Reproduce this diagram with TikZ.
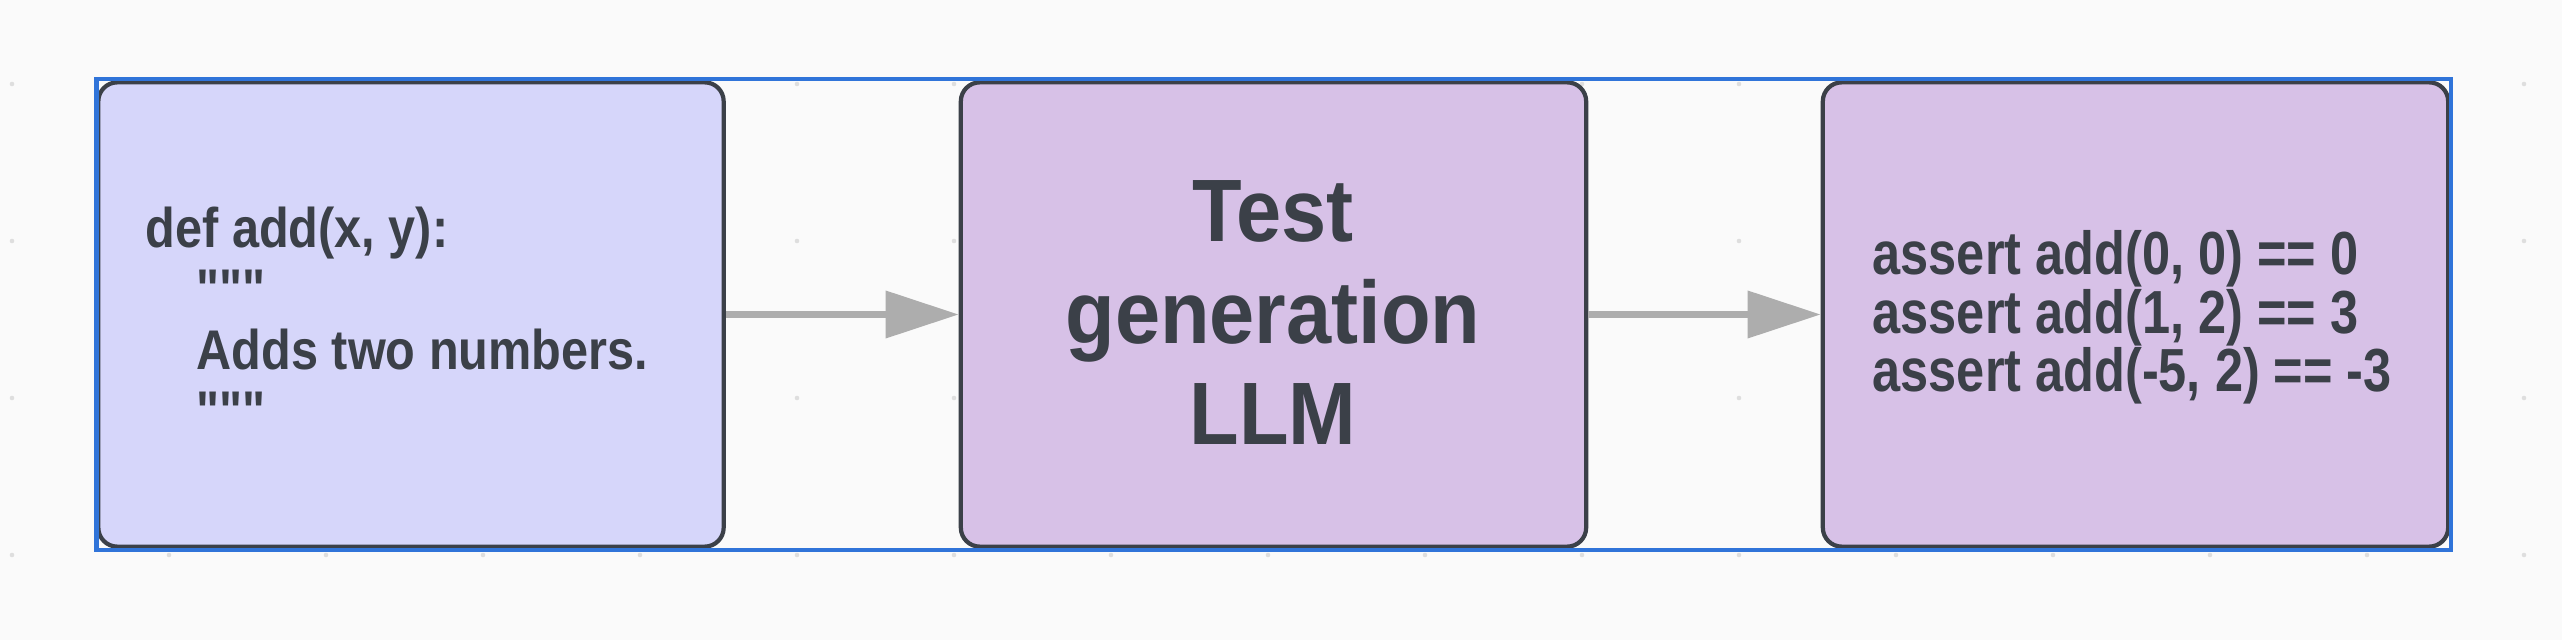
\documentclass[tikz,border=0pt]{standalone}
\usepackage{fontspec}
\usepackage{tikz}
\usetikzlibrary{arrows.meta}

\newfontfamily\codefont{Liberation Sans}[FakeStretch=0.87]
\newfontfamily\assertfont{Liberation Sans}[FakeStretch=0.83]
\newfontfamily\titlefont{Liberation Sans}[FakeStretch=0.916]

\definecolor{canvas}{HTML}{FAFAFA}
\definecolor{griddot}{HTML}{DEDEDE}
\definecolor{ink}{HTML}{3B4048}
\definecolor{inputfill}{HTML}{D6D6FA}
\definecolor{llmfill}{HTML}{D7C1E7}
\definecolor{wire}{HTML}{ADADAD}
\definecolor{selection}{HTML}{3074D9}

\tikzset{
	block/.style={draw=ink, line width=1.2pt, rounded corners=5.4pt,
		minimum width=6.25cm, minimum height=4.64cm, inner sep=0pt},
	code/.style={text=ink, inner sep=0pt, align=left,
		font={\codefont\bfseries\fontsize{15.9pt}{17.4pt}\selectfont}},
	flow/.style={draw=wire, line width=2pt,
		-{Triangle[length=20.8pt, width=13.1pt]}},
}

\begin{document}
\begin{tikzpicture}[x=0.01cm, y=-0.01cm]

% canvas %{{{2

	\fill[canvas] (0,0) rectangle (2562,640);
	\useasboundingbox (0,0) rectangle (2562,640);

	% dot grid
	\foreach \gx in {0,...,16}
		\foreach \gy in {0,...,3}
			\fill[griddot] (12+157*\gx, 84+157*\gy) circle (0.65pt);

% coordinates %{{{2

	\coordinate (selNW) at (96.5,79.3);
	\coordinate (selSE) at (2450.7,550.3);

% blocks %{{{2

	\node[block, fill=inputfill] (input) at (411,314.5) {};
	\node[block, fill=llmfill]   (llm)   at (1273.5,314.5) {};
	\node[block, fill=llmfill]   (tests) at (2135.5,314.5) {};

% texts %{{{2

	\node[code, anchor=north west] (inputtext) at (145,206)
	{def add(x, y):\\
		\hspace*{0.51cm}"""\\
		\hspace*{0.51cm}Adds two numbers.\\
		\hspace*{0.51cm}"""};

	\node[text=ink, inner sep=0pt, align=center, anchor=north,
		font={\titlefont\bfseries\fontsize{25.2pt}{28.9pt}\selectfont}]
		(llmtext) at (1273,180) {Test\\generation\\LLM};

	\node[code, anchor=north west,
		font={\assertfont\bfseries\fontsize{17.3pt}{16.6pt}\selectfont}]
		(teststext) at (1872,230)
	{assert add(0, 0) == 0\\
		assert add(1, 2) == 3\\
		assert add(-5, 2) == -3};

% arrows %{{{2

	\draw[flow] (input.east) -- (llm.west);
	\draw[flow] (llm.east) -- (tests.west);

% selection frame %{{{2

	\draw[selection, line width=1.15pt] (selNW) rectangle (selSE);

\end{tikzpicture}
\end{document}
